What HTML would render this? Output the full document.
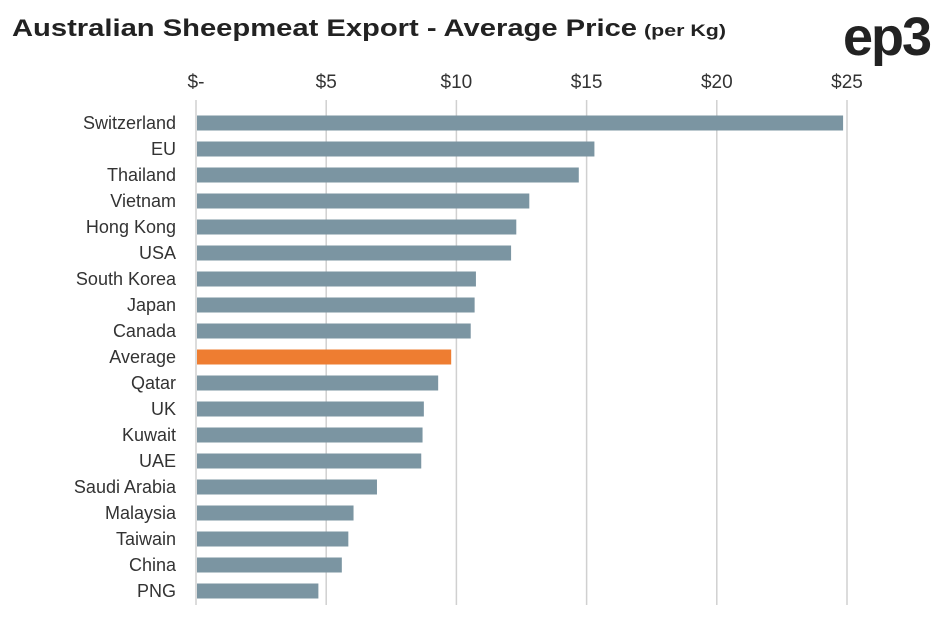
<!DOCTYPE html>
<html><head><meta charset="utf-8"><style>
body{margin:0;background:#fff;width:941px;height:625px;overflow:hidden;font-family:"Liberation Sans",sans-serif;}
</style></head><body>
<svg width="941" height="625">
<text x="12" y="36" font-size="24" font-weight="bold" fill="#222" textLength="625" lengthAdjust="spacingAndGlyphs">Australian Sheepmeat Export - Average Price</text>
<text x="644" y="36" font-size="17" font-weight="bold" fill="#222" textLength="82" lengthAdjust="spacingAndGlyphs">(per Kg)</text>
<text x="930" y="55" text-anchor="end" font-size="54" font-weight="bold" fill="#222" letter-spacing="-2">ep3</text>
<g id="grid"></g><g id="bars"></g>
</svg>
<script>
const categories=["Switzerland","EU","Thailand","Vietnam","Hong Kong","USA","South Korea","Japan","Canada","Average","Qatar","UK","Kuwait","UAE","Saudi Arabia","Malaysia","Taiwain","China","PNG"];
const values=[24.85,15.3,14.7,12.8,12.3,12.1,10.75,10.7,10.55,9.8,9.3,8.75,8.7,8.65,6.95,6.05,5.85,5.6,4.7];
const ticks=[0,5,10,15,20,25];
const tickLabels=["$-","$5","$10","$15","$20","$25"];
const NS="http://www.w3.org/2000/svg";
const x=v=>196+v*26.04;
const y=i=>123+i*26;
function mk(t,a,p){const e=document.createElementNS(NS,t);for(const k in a)e.setAttribute(k,a[k]);p.appendChild(e);return e;}
const g=document.getElementById('grid'),b=document.getElementById('bars');
ticks.forEach((t,i)=>{
 const l=mk('line',{x1:x(t),x2:x(t),y1:100,y2:605,stroke:'#d0d0d0','stroke-width':1.5},g);
 
 
 const tx=mk('text',{x:x(t),y:88,'text-anchor':'middle','font-size':19,fill:'#333'},g);
 tx.textContent=tickLabels[i];
 
 
});
categories.forEach((c,i)=>{
 const r=mk('rect',{x:197,y:y(i)-7.5,width:x(values[i])-197,height:15,fill:c==="Average"?'#ee7d31':'#7b95a2'},b);
 
 
 const t=mk('text',{x:176,y:y(i)+6,'text-anchor':'end','font-size':18,fill:'#333'},b);
 t.textContent=c;
 
 
});
</script>
</body></html>
